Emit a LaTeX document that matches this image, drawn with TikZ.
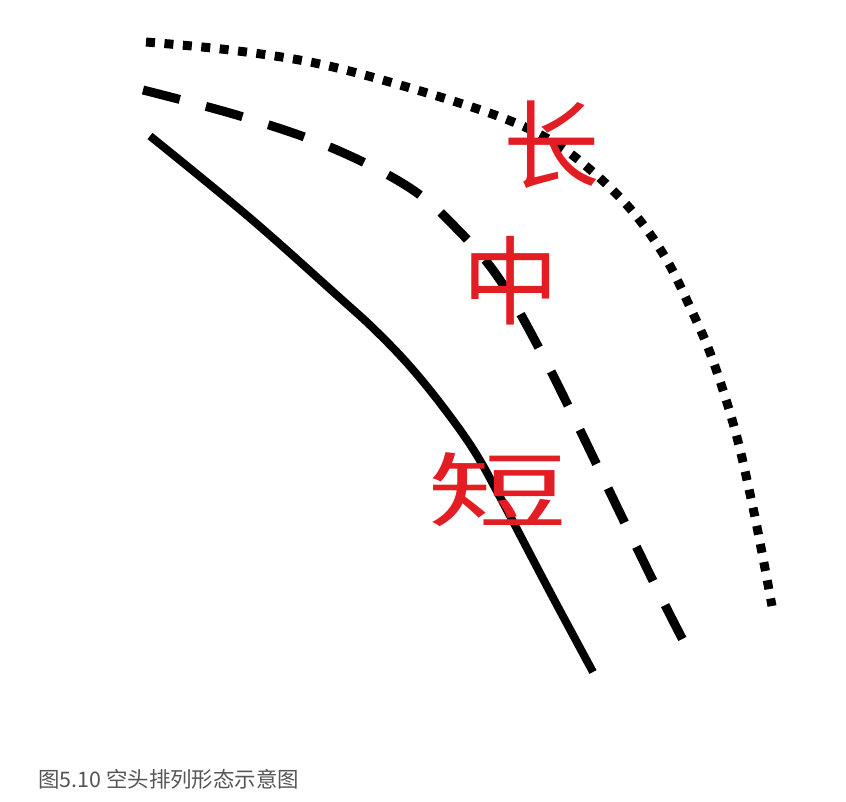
\documentclass[tikz,border=0pt]{standalone}
\usepackage{fontspec}
\newfontfamily\cjk{Noto Sans CJK SC}
\definecolor{handred}{RGB}{226,30,36}
\definecolor{capgray}{RGB}{85,85,85}

\begin{document}
\begin{tikzpicture}[x=0.02cm,y=-0.02cm]

% \draw[help lines, color=gray!30] (0,0) grid[step=50] (846,802);
\useasboundingbox (0,0) rectangle (846,802);

\tikzstyle{shortline}=[line width=0.16cm]
\tikzstyle{midline}=[line width=0.18cm, dash pattern=on 0.76cm off 0.54cm]
\tikzstyle{longline}=[line width=0.18cm, dash pattern=on 0.18cm off 0.19cm]
\tikzstyle{handmark}=[text=handred, font=\cjk\fontsize{55}{55}\selectfont, inner sep=0pt]

% long: dotted
\draw[longline] plot[smooth, tension=0.6] coordinates {(146,42) (230,50) (315,63) (400,85) (495,115) (550,140) (593,172) (633,212) (665,257) (690,307) (712,358) (735,430) (752,503) (763,558) (772,606)};

% middle: dashed
\draw[midline] plot[smooth, tension=0.6] coordinates {(143,90) (240,116) (330,147) (410,188) (460,232) (500,280) (540,350) (580,430) (620,513) (660,595) (686,646)};

% short: solid
\draw[shortline] plot[smooth, tension=0.6] coordinates {(150,136) (250,218) (340,298) (373,328) (407,363) (440,403) (473,449) (500,497) (550,592) (593,672)};

% red marks
\node[handmark] (chang) at (552,145) {长};
\node[handmark] (zhong) at (511,281) {中};
\node[handmark, xscale=1.45, yscale=0.85] (duan) at (498,490) {短};

% caption
\node[anchor=west, inner sep=0pt, text=capgray, font=\cjk\fontsize{12.2}{15}\selectfont] (title) at (38,779) {图5.10 空头排列形态示意图};

\end{tikzpicture}
\end{document}
